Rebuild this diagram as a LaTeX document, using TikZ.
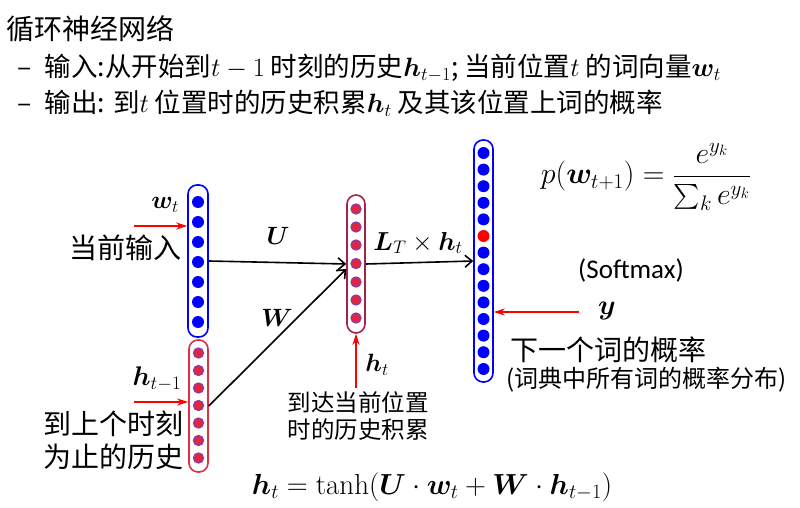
\RequirePackage{fix-cm}
\documentclass[tikz,border=0pt]{standalone}
\usepackage{amsmath}
\usepackage{bm}
\usepackage{fontspec}
\newfontfamily\cjk{Noto Sans CJK SC}
\newfontfamily\calibri{Carlito}
\usetikzlibrary{arrows.meta}

\definecolor{dotred}{RGB}{232,36,58}
\definecolor{dotrim}{RGB}{140,60,170}
\definecolor{boxred}{RGB}{225,45,70}
\definecolor{boxmaroon}{RGB}{165,35,70}

\tikzset{
  bluedot/.style={circle,fill=blue,inner sep=0pt,minimum size=12pt},
  reddot/.style={circle,fill=dotred,draw=dotrim,line width=1.3pt,inner sep=0pt,minimum size=10pt},
  colbox/.style={rectangle,rounded corners=9pt,line width=1.6pt,inner sep=0pt},
  conn/.style={line width=1.6pt,-{Straight Barb[length=7pt,width=12pt]}},
  redarr/.style={red,line width=1.3pt,-{Stealth[length=11pt,width=7pt]}},
  zh/.style={font=\cjk\fontsize{#1}{#1}\selectfont},
  lab/.style={font=\fontsize{#1}{#1}\selectfont}
}

\begin{document}
\begin{tikzpicture}[x=1pt,y=-1pt]
\useasboundingbox (0,0) rectangle (800,508);

% heading
\node[zh=28,anchor=west] (title) at (3,29) {循环神经网络};
\node[zh=26.5,anchor=west] (line1) at (14,68) {–\hspace{13pt}输入:从开始到$t-1$ 时刻的历史$\bm{h}_{t-1}$; 当前位置$t$ 的词向量$\bm{w}_t$};
\node[zh=26.5,anchor=west] (line2) at (14,103) {–\hspace{13pt}输出: 到$t$ 位置时的历史积累$\bm{h}_t$ 及其该位置上词的概率};

% columns
\node[colbox,draw=blue,minimum width=20pt,minimum height=152pt] (inbox) at (198,261) {};
\node[colbox,draw=boxred,minimum width=19pt,minimum height=132pt] (hbox) at (198.5,406) {};
\node[colbox,draw=boxmaroon,minimum width=18pt,minimum height=138pt] (midbox) at (356,264) {};
\node[colbox,draw=blue,minimum width=19pt,minimum height=242pt] (outbox) at (483.5,261) {};

\node[bluedot] (in1) at (198,202) {};
\node[bluedot] (in2) at (198,222) {};
\node[bluedot] (in3) at (198,242) {};
\node[bluedot] (in4) at (198,262) {};
\node[bluedot] (in5) at (198,282) {};
\node[bluedot] (in6) at (198,302) {};
\node[bluedot] (in7) at (198,322) {};

\node[reddot] (hp1) at (198.5,353) {};
\node[reddot] (hp2) at (198.5,370.5) {};
\node[reddot] (hp3) at (198.5,388) {};
\node[reddot] (hp4) at (198.5,405.5) {};
\node[reddot] (hp5) at (198.5,423) {};
\node[reddot] (hp6) at (198.5,440.5) {};
\node[reddot] (hp7) at (198.5,458) {};

\node[reddot] (hc1) at (356,209) {};
\node[reddot] (hc2) at (356,227) {};
\node[reddot] (hc3) at (356,245) {};
\node[reddot] (hc4) at (356,263.5) {};
\node[reddot] (hc5) at (356,282) {};
\node[reddot] (hc6) at (356,300) {};
\node[reddot] (hc7) at (356,318) {};

\node[bluedot] (out1) at (483.5,153) {};
\node[bluedot] (out2) at (483.5,169.6) {};
\node[bluedot] (out3) at (483.5,186.2) {};
\node[bluedot] (out4) at (483.5,202.8) {};
\node[bluedot] (out5) at (483.5,219.4) {};
\node[bluedot,fill=red] (out6) at (483.5,236) {};
\node[bluedot] (out7) at (483.5,252.6) {};
\node[bluedot] (out8) at (483.5,269.2) {};
\node[bluedot] (out9) at (483.5,285.8) {};
\node[bluedot] (out10) at (483.5,302.4) {};
\node[bluedot] (out11) at (483.5,319) {};
\node[bluedot] (out12) at (483.5,335.6) {};
\node[bluedot] (out13) at (483.5,352.2) {};
\node[bluedot] (out14) at (483.5,369) {};

% connectors
\draw[conn] (inbox.east) -- (midbox.west);
\draw[conn] (hbox.east) -- ([yshift=-5pt]midbox.west);
\draw[conn] (midbox.east) -- (outbox.west);

\node[lab=25] (Ulab) at (278,236) {$\bm{U}$};
\node[lab=25] (Wlab) at (277,318) {$\bm{W}$};
\node[lab=26] (Llab) at (418,243) {$\bm{L}_T\times\bm{h}_t$};

% inputs and outputs
\coordinate (wtin) at (134,226);
\coordinate (hpin) at (134,402);
\coordinate (htin) at (356,388);
\coordinate (yin) at (579,312);
\draw[redarr] (wtin) -- (wtin -| inbox.west);
\draw[redarr] (hpin) -- (hpin -| hbox.west);
\draw[redarr] (htin) -- (midbox.south);
\draw[redarr] (yin) -- (yin -| outbox.east);

\node[lab=25] (wt) at (165,205) {$\bm{w}_t$};
\node[lab=27] (hp) at (157,379) {$\bm{h}_{t-1}$};
\node[lab=25] (ht) at (377,365) {$\bm{h}_t$};
\node[lab=28] (ylab) at (607,311) {$\bm{y}$};

\node[zh=28,anchor=east] (curin) at (185,248) {当前输入};
\node[zh=28,align=center] (past) at (113,440) {到上个时刻\\[5pt]为止的历史};
\node[zh=23.5,align=center] (reach) at (358,416) {到达当前位置\\[4pt]时的历史积累};
\node[zh=28,anchor=west] (next) at (507,350) {下一个词的概率};
\node[zh=24,anchor=west] (dict) at (503,380) {(词典中所有词的概率分布)};
\node[font=\calibri\fontsize{27}{27}\selectfont] (soft) at (631,270) {(Softmax)};

\node[lab=30] (pform) at (646,177) {$\displaystyle p(\bm{w}_{t+1})=\frac{e^{y_k}}{\sum_k e^{y_k}}$};
\node[lab=29] (hform) at (432,487) {$\bm{h}_t=\tanh(\bm{U}\cdot\bm{w}_t+\bm{W}\cdot\bm{h}_{t-1})$};
\end{tikzpicture}
\end{document}
